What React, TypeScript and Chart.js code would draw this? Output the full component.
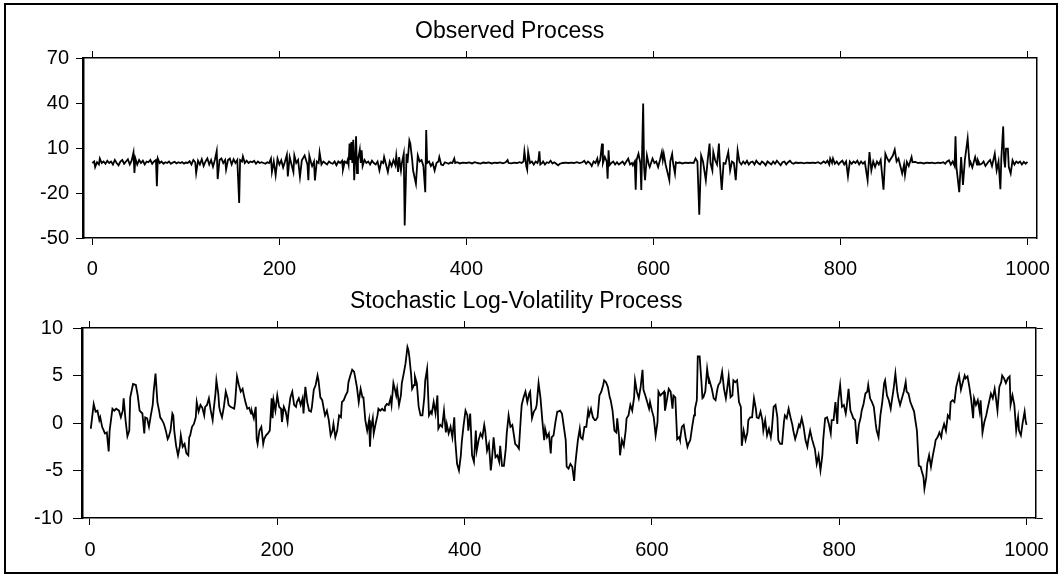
import React, { useEffect, useRef } from 'react';
import { Chart, registerables } from 'chart.js';

Chart.register(...registerables);

const FONT = '"Liberation Sans", Arial, Helvetica, sans-serif';

// ---- tick values ----
const xTicks = [0, 200, 400, 600, 800, 1000];
const obsYTicks = [-50, -20, 10, 40, 70];
const volYTicks = [-10, -5, 0, 5, 10];

// ---- titles ----
const obsTitle = 'Observed Process';
const volTitle = 'Stochastic Log-Volatility Process';

// ---- observed process: [time, value] ----
const obsPoints: [number, number][] = [
  [0,0],[2,1],[3,-2.7],[5,0.5],[7,-1],[8,3],[10,0],[12,1],[14,-0.5],[16,1.5],[18,0],[20,1],[22,-1],[24,2],[26,0],[28,-1.5],[30,1],[32,2],[34,-0.5],[36,1],[38,2.5],[40,-1],[42,1.5],[44,7],[45,-6.7],[46,3],[48,-1],[50,2],[52,0],[54,1.5],[56,-1],[58,1],[60,0.5],[62,2],[64,-0.5],[66,1],[68,2],[69,-15.5],[70,3],[72,0],[74,1],[76,-0.5],[78,0.5],[80,0],[82,1],[84,-0.5],[86,0.3],[88,0.8],[90,-0.3],[92,0.5],[94,0],[96,0.6],[98,-0.4],[100,0.3],[102,0],[104,1.2],[106,-1],[108,2],[110,0.5],[111,-6.7],[113,1.5],[115,-1],[117,2.5],[119,-2],[121,1],[123,3],[125,-1],[127,2],[129,-2.5],[131,2],[133,8],[134,-10.7],[136,2],[138,3],[140,0],[142,2],[143,-4.4],[145,2],[147,3],[149,-1],[151,2.5],[153,0],[155,2],[157,-26.7],[158,2],[160,1],[161,4.4],[163,0],[165,1.5],[167,0],[169,1],[171,0.5],[173,1.5],[175,-0.5],[177,1],[179,0],[181,0.5],[183,0],[185,-0.5],[187,0.5],[189,0],[191,3],[192,-6],[194,1],[196,-8.2],[198,2.9],[200,-1],[202,1.8],[204,-3],[206,1],[208,5.5],[209,-8.9],[211,4],[213,-1],[215,-6],[216,5],[218,0],[220,2],[222,-9.3],[224,1.8],[227,5],[230,-1],[231,-11.5],[232,5],[234,0],[235,-2],[237,1],[238,-11.6],[240,1],[242,0],[243,7],[245,-1],[247,1],[249,0],[251,-1],[253,1],[255,0],[257,-0.5],[259,1],[261,-1.5],[263,1],[265,0],[267,1.5],[268,-4.4],[270,1],[272,0],[273,2],[274,-1],[275,12.9],[276,2],[277,14],[278,0],[279,15.5],[280,-11.5],[281,3],[282,17.8],[283,-6.7],[284,2],[286,9],[287,0],[288,8.4],[289,-2],[291,2],[293,0],[295,1],[297,-1],[299,1.5],[301,0],[303,-1],[305,1],[307,-4.9],[309,1],[311,0],[312,4],[314,-1],[316,-6],[318,1],[320,-2],[322,2],[324,-1.5],[325,5],[327,-6],[328,4],[330,-5],[331,0],[333,6.2],[334,-41.6],[336,6.2],[337,0],[339,15],[340,13],[342,2],[343,-5],[346,-13.8],[348,5],[350,1],[352,2],[354,-2],[356,-19.5],[357,22],[358,0],[360,1],[362,-2],[364,0],[366,-5],[368,0],[370,1],[371,4],[373,-1],[375,-1.5],[377,0.5],[379,0],[381,-0.5],[383,0.3],[385,0],[387,3],[388,0],[390,0.5],[393,-0.3],[396,0.3],[400,0],[403,0.4],[406,-0.3],[409,0.5],[412,0],[415,-0.4],[418,0.3],[421,0],[424,0.4],[427,-0.3],[430,0.2],[433,0],[436,0.4],[439,-0.2],[442,0.5],[444,2],[445,0],[448,-0.3],[451,0.3],[454,0],[457,0.5],[459,0],[461,1],[462,7.8],[464,-2],[465,-4.4],[466,7.3],[468,0],[470,1],[472,-1],[474,1],[476,0],[477,2],[478,7.8],[479,-1],[481,0],[482,1],[484,-1],[486,0.5],[488,0],[490,1.5],[492,-0.3],[494,0.5],[496,-0.5],[498,-1.5],[500,-0.5],[503,0],[506,0.3],[509,0],[512,0.3],[515,0],[518,0.5],[521,0],[524,0.5],[526,1.5],[528,-0.5],[530,1],[532,0],[534,-2],[536,1],[538,0],[540,3],[541,-1],[543,2],[545,12.9],[546,0],[548,4],[550,1],[551,-10.5],[552,8.4],[553,-1.5],[555,0],[557,1],[559,-1],[561,0.5],[563,-1],[565,0],[567,1],[569,-1],[571,1],[573,2.9],[575,-1],[577,0],[578,-1.5],[580,1],[581,-17.8],[582,2],[584,6.2],[586,0],[587,-18],[589,39.6],[590,-3],[591,-11.5],[593,5],[595,-1],[596,-2.7],[599,3],[601,0],[603,1],[605,-2.7],[607,2],[609,7.3],[610,2],[611,6.2],[613,-1],[617,-11.5],[618,1],[620,6],[621,0],[623,-7],[624,0.5],[626,0],[628,0.3],[631,-0.3],[634,0.2],[637,0],[640,0.3],[643,0],[645,3],[647,1],[649,-34.4],[651,5],[653,1],[656,-11.5],[658,2],[660,12.9],[661,0],[663,-5],[664,7.3],[666,1.8],[668,-1],[670,12.9],[671,0],[673,-18],[675,0],[677,-0.5],[680,7.3],[682,-5],[684,1],[686,0],[688,-11.5],[690,8.4],[692,0.7],[694,-1],[696,1],[698,-0.5],[700,1.5],[702,-1],[704,0.5],[706,1],[708,-1],[710,1.5],[712,0],[714,-1],[716,1],[718,0],[720,-1.5],[722,1],[724,0],[726,-1],[728,1],[730,-0.5],[732,1.5],[734,0],[736,-1.5],[738,0.5],[740,1],[742,-1],[744,0.5],[746,1.5],[748,0],[750,-0.5],[752,0.3],[755,0],[758,0.3],[761,-0.2],[764,0.2],[767,0],[770,0.3],[773,0],[776,0.5],[779,-0.5],[782,1],[784,0],[786,1.5],[788,-1],[789,3],[791,0],[792,3],[794,-0.5],[796,1],[798,-1],[800,0.5],[802,1.5],[804,-1],[806,1],[808,-8.9],[810,1],[812,-0.5],[814,1],[816,0],[818,1.5],[820,-1],[822,1],[824,-0.5],[826,0.7],[829,-11.5],[831,7.3],[833,-4.9],[835,1],[837,-2.7],[839,1],[841,-1],[843,2],[846,-17.8],[848,6.2],[850,3],[852,1],[854,3],[856,5],[858,8.9],[860,1],[862,3],[864,-2],[866,-7],[868,-1],[869,-8],[871,0.7],[873,-2],[876,4],[877,0.5],[880,0.7],[883,0],[886,0.3],[889,-0.3],[892,0.2],[895,0],[898,0.3],[901,-0.2],[904,0.3],[907,0],[910,0.5],[912,-0.5],[914,1],[916,1.8],[918,-1],[920,1],[922,-2],[923,17.8],[924,-2.7],[927,-19.5],[929,4],[931,-14.6],[933,2],[936,16.4],[938,-1],[939,0.7],[941,-3],[944,4],[946,-1],[947,1.8],[949,-1],[951,-0.5],[953,1],[955,-2],[958,0.7],[960,2],[962,-2],[965,6.2],[967,-4.9],[969,1],[971,-17.5],[972,3],[974,24.4],[975,1.8],[976,-3],[977,9.5],[979,9.5],[980,-2.7],[982,-7],[984,1.8],[986,-1],[988,1],[990,0],[992,1],[994,-1],[996,0.7],[998,-0.5],[1000,0.7]
];

// ---- stochastic log-volatility: [time, value] ----
const volPoints: [number, number][] = [
  [0,-0.5],[1,-0.5],[4,2.0],[6,1.2],[8,1.3],[10,0.3],[11,0.6],[13,-0.4],[16,-1.1],[18,-1.0],[20,-3.0],[21,-0.8],[24,1.5],[26,1.3],[28,1.5],[31,1.3],[33,0.6],[35,1.3],[36,2.6],[38,0.3],[40,-1.4],[42,-0.8],[43,2.7],[46,4.1],[49,4.0],[51,2.9],[53,1.3],[56,1.0],[58,-1.1],[59,0.6],[61,0.5],[63,-0.4],[65,0.8],[67,1.9],[68,3.3],[70,5.2],[72,2.2],[74,1.2],[75,0.6],[77,0.3],[79,-0.1],[81,-0.8],[83,-1.7],[84,-1.5],[86,-0.8],[88,1.0],[89,0.8],[90,-0.8],[92,-2.4],[94,-3.4],[96,-2.4],[97,-1.3],[99,-2.5],[101,-2.2],[103,-3.2],[105,-3.4],[106,-1.5],[107,-1.3],[109,-0.4],[111,-0.1],[113,0.6],[114,2.2],[116,1.2],[118,1.9],[120,1.6],[122,0.8],[123,1.7],[125,1.9],[127,2.6],[129,1.3],[131,0.3],[132,1.3],[134,3.1],[135,4.5],[137,3.1],[138,1.7],[139,1.2],[141,0.6],[143,1.7],[145,3.3],[147,2.6],[148,1.9],[150,1.7],[152,1.6],[154,1.5],[155,2.2],[157,4.9],[159,4.0],[161,3.3],[163,3.6],[164,3.1],[166,2.2],[168,1.5],[170,1.6],[172,1.0],[173,1.2],[175,0.5],[177,1.7],[178,-1.7],[179,-2.2],[181,-0.8],[183,-0.4],[185,-2.2],[186,-1.7],[188,-1.3],[190,-1.1],[192,-0.8],[194,2.6],[195,0.5],[196,2.4],[198,1.3],[200,2.9],[202,1.7],[204,1.5],[205,0.1],[207,1.7],[209,1.2],[211,0.1],[212,1.2],[214,2.7],[216,3.3],[218,1.9],[220,1.7],[221,2.2],[223,2.6],[225,1.9],[227,2.6],[228,1.0],[230,3.8],[232,2.2],[234,1.3],[236,1.2],
  [237,1.7],[239,3.5],[241,4.0],[243,5.0],[244,4.5],[246,2.7],[248,2.4],[250,1.3],[251,0.8],[253,1.3],[255,0.3],[257,-1.3],[259,-0.8],[260,-0.1],[262,-1.5],[264,-0.8],[266,0.8],[268,0.6],[269,2.2],[271,2.4],[273,2.9],[275,3.3],[276,4.3],[278,5.0],[280,5.6],[282,5.4],[283,4.9],[285,3.8],[287,2.2],[289,3.6],[291,2.7],[292,2.7],[294,0.3],[296,-0.8],[298,0.3],[299,-2.5],[300,-0.6],[302,0.5],[303,-1.1],[305,-0.1],[307,0.8],[308,1.5],[310,1.3],[312,1.5],[314,1.3],[315,1.7],[317,2.0],[319,1.9],[321,2.6],[322,1.9],[324,4.2],[325,3.8],[327,2.9],[328,3.6],[330,1.9],[332,2.9],[333,4.2],[335,5.2],[337,6.3],[339,8.0],[340,7.7],[341,7.0],[343,5.0],[344,3.6],[346,4.0],[347,4.9],[349,4.2],[351,1.7],[353,0.8],[355,0.8],[357,2.7],[358,4.5],[360,5.7],[362,0.8],[364,1.2],[365,1.0],[367,2.2],[369,1.0],[371,2.9],[372,-0.6],[374,-0.2],[376,-0.4],[378,1.3],[380,-1.0],[381,-0.1],[383,-1.1],[385,-0.4],[387,-1.5],[389,0.6],[390,-1.8],[392,-4.3],[394,-5.0],[396,-3.4],[397,-2.0],[399,-0.2],[401,1.3],[403,0.8],[404,-0.8],[406,1.0],[408,-3.4],[410,-4.1],[412,-0.8],[413,-2.9],[415,-1.8],[417,-1.1],[419,-1.5],[421,-0.2],[422,-0.8],[424,-2.9],[426,-2.2],[428,-5.0],[429,-4.1],[431,-1.5],[433,-3.6],[435,-3.4],[437,-4.1],[438,-2.4],[440,-4.5],[442,-4.5],[444,-2.7],[445,-1.1],[447,0.8],[449,-0.4],[451,-0.2],[453,-1.5],[454,-2.2],[456,-2.4],[458,-2.7],[460,0.5],[461,1.9],[463,2.7],[465,3.3],[467,2.2],[469,3.1],[470,3.3],[472,0.5],[474,1.2],[476,1.5],[477,1.9],[479,4.2],[481,2.7],
  [483,0.3],[485,-1.8],[486,-0.6],[488,-1.5],[490,-1.1],[492,-3.2],[493,-1.5],[495,-1.3],[497,0.1],[499,1.2],[500,1.2],[502,1.3],[504,1.0],[506,-0.4],[508,-1.8],[509,-4.6],[511,-4.8],[513,-4.3],[515,-4.6],[517,-6.1],[518,-4.6],[519,-3.6],[521,-1.8],[523,-0.6],[524,-1.5],[526,-1.7],[528,-0.4],[530,-0.4],[532,1.3],[533,0.8],[535,1.5],[537,0.6],[539,0.3],[540,0.3],[542,0.6],[544,2.9],[546,3.3],[548,4.0],[549,4.5],[551,4.3],[553,3.8],[555,2.7],[556,2.4],[558,1.3],[560,-0.8],[562,-1.0],[563,0.5],[565,-1.5],[566,-3.4],[568,-1.8],[570,-2.4],[572,-0.8],[573,0.5],[575,0.8],[577,1.9],[579,1.3],[581,2.7],[582,4.5],[584,3.3],[586,2.6],[588,3.8],[590,5.6],[591,3.5],[593,2.9],[595,2.2],[597,1.5],[598,2.2],[600,1.3],[602,0.6],[604,-1.3],[606,0.1],[607,3.3],[609,2.9],[611,3.1],[613,3.3],[614,1.3],[616,2.4],[618,3.6],[620,3.3],[622,1.5],[623,2.9],[625,2.7],[627,-1.7],[629,-1.5],[630,-1.8],[632,-0.4],[634,-0.2],[636,-1.5],[638,-2.5],[639,-2.2],[641,-1.8],[643,-0.4],[645,0.8],[646,1.5],[648,2.4],[649,7.0],[651,7.0],[653,4.2],[654,2.6],[655,2.7],[657,3.3],[659,5.7],[661,4.2],[662,4.3],[664,3.6],[666,2.6],[668,2.4],[670,3.6],[671,4.0],[673,4.3],[675,5.4],[677,3.6],[679,2.6],[680,3.3],[682,4.9],[684,2.7],[686,2.9],[687,4.5],[689,4.3],[691,4.5],[693,2.2],[695,1.7],[696,-2.4],[698,-0.8],[700,-1.8],[702,-1.0],[703,0.3],[705,0.6],[707,0.6],[709,2.6],[711,1.5],[712,0.6],[714,0.5],[716,1.2],[718,0.3],[719,-0.8],[721,0.3],[723,-1.3],[725,-0.6],[727,-1.5],
  [728,-0.8],[730,1.7],[732,1.9],[734,0.6],[735,-1.8],[737,-2.2],[739,-2.2],[741,0.1],[742,0.8],[744,0.5],[746,1.5],[748,0.6],[750,-0.2],[751,-0.8],[753,-1.7],[755,-1.0],[757,-0.2],[758,-0.4],[760,0.5],[762,-0.4],[764,-1.8],[766,-2.5],[767,-1.8],[769,-0.8],[771,-1.7],[773,-2.4],[774,-2.7],[776,-4.3],[778,-3.4],[780,-5.0],[782,-3.4],[783,-1.7],[785,0.5],[787,0.6],[789,-0.1],[791,-1.1],[792,0.3],[794,0.3],[796,2.2],[798,-0.1],[799,2.4],[801,4.0],[803,1.7],[805,1.9],[807,1.0],[808,1.7],[810,3.6],[812,1.3],[814,0.8],[815,0.5],[817,0.3],[819,-2.2],[821,-0.2],[823,0.6],[824,1.3],[826,2.0],[828,3.1],[830,3.3],[831,4.0],[833,2.6],[835,2.2],[837,1.7],[839,-0.1],[840,-0.8],[842,-1.5],[844,0.8],[846,2.2],[848,4.2],[849,4.5],[851,2.9],[853,2.4],[855,1.5],[856,2.2],[858,3.5],[860,5.2],[862,3.3],[863,2.7],[865,1.9],[867,2.6],[869,3.3],[871,4.3],[872,3.3],[874,3.1],[876,2.2],[878,1.7],[880,1.2],[881,0.5],[883,-0.8],[885,-4.5],[887,-4.6],[888,-5.0],[890,-5.7],[891,-6.9],[893,-5.7],[894,-4.3],[896,-3.4],[898,-4.6],[900,-3.4],[902,-2.4],[903,-1.8],[905,-1.5],[907,-1.0],[909,-1.5],[910,-0.8],[912,-0.1],[914,-0.8],[916,0.8],[918,0.5],[919,2.2],[921,2.4],[923,2.2],[925,3.8],[926,4.2],[928,5.0],[930,3.5],[932,4.3],[934,5.0],[935,4.7],[937,4.9],[939,3.8],[941,2.4],[943,0.5],[944,2.6],[946,1.9],[948,2.4],[950,1.2],[951,2.4],[953,-1.0],[955,0.1],[957,0.8],[958,1.3],[960,2.2],[962,3.1],[964,2.6],[966,3.6],[967,2.9],[969,1.3],[971,3.8],[973,4.3],[974,5.0],[976,4.7],[978,4.2],[980,4.7],[982,4.9],[983,1.9],[985,2.9],[987,1.9],[989,-0.8],[991,0.6],[992,-0.8],[994,-1.3],[996,0.1],[998,1.2],[999,0.3],[1000,-0.2]
];

type PanelCfg = {
  points: [number, number][];
  title: string;
  titleX: number;
  titleY: number;
  xMin: number;
  xMax: number;
  yMin: number;
  yMax: number;
  yTicks: number[];
  leftW: number;
  rightW: number;
  topH: number;
  bottomH: number;
  yPad: number;
  yTickLen: number;
  xPad: number;
  rightTicks: boolean;
};

const panelA: PanelCfg = {
  points: obsPoints, title: obsTitle, titleX: 415, titleY: 31.5,
  xMin: -10, xMax: 1009.5, yMin: -50, yMax: 70, yTicks: obsYTicks,
  leftW: 83, rightW: 24, topH: 58, bottomH: 49,
  yPad: 7, yTickLen: 7, xPad: 12, rightTicks: false,
};

const panelB: PanelCfg = {
  points: volPoints, title: volTitle, titleX: 350, titleY: 14.5,
  xMin: -8.5, xMax: 1010, yMin: -10, yMax: 10, yTicks: volYTicks,
  leftW: 82, rightW: 26, topH: 41, bottomH: 56,
  yPad: 10, yTickLen: 9, xPad: 13, rightTicks: true,
};

const INK = '#000';

function buildChart(canvas: HTMLCanvasElement, p: PanelCfg) {
  const tickFont = { family: FONT, size: 20 };
  const setTicks = (vals: number[]) => (s: any) => {
    s.ticks = vals.map((v) => ({ value: v }));
  };
  const fixW = (w: number) => (s: any) => { s.width = w; };
  const fixH = (h: number) => (s: any) => { s.height = h; };
  const fmt = (v: any) => String(v);
  const titlePlugin = {
    id: 'panelTitle',
    afterDraw(chart: any) {
      const ctx = chart.ctx;
      ctx.save();
      ctx.font = `23px ${FONT}`;
      ctx.fillStyle = INK;
      ctx.textAlign = 'left';
      ctx.textBaseline = 'middle';
      ctx.fillText(p.title, p.titleX, p.titleY);
      ctx.restore();
    },
  };

  return new Chart(canvas, {
    type: 'line',
    data: {
      datasets: [
        {
          data: p.points.map(([x, y]) => ({ x, y })),
          xAxisID: 'x',
          yAxisID: 'y',
          borderColor: INK,
          borderWidth: 1.8,
          pointRadius: 0,
          tension: 0,
          fill: false,
        },
      ],
    },
    options: {
      animation: false,
      responsive: false,
      devicePixelRatio: 1,
      events: [],
      layout: { padding: 0, autoPadding: false },
      plugins: {
        legend: { display: false },
        title: { display: false },
        tooltip: { enabled: false },
      },
      scales: {
        x: {
          type: 'linear',
          position: 'bottom',
          min: p.xMin,
          max: p.xMax,
          afterBuildTicks: setTicks(xTicks),
          afterFit: fixH(p.bottomH),
          ticks: { callback: fmt, font: tickFont, color: INK, padding: p.xPad, maxRotation: 0, autoSkip: false },
          grid: { drawOnChartArea: false, drawTicks: true, tickLength: 7, color: INK, tickColor: INK, lineWidth: 1 },
          border: { display: true, color: INK, width: 1.5 },
        },
        xTop: {
          type: 'linear',
          position: 'top',
          min: p.xMin,
          max: p.xMax,
          afterBuildTicks: setTicks(xTicks),
          afterFit: fixH(p.topH),
          ticks: { display: false },
          grid: { drawOnChartArea: false, drawTicks: true, tickLength: 7, color: INK, tickColor: INK, lineWidth: 1 },
          border: { display: true, color: INK, width: 1.5 },
        },
        y: {
          type: 'linear',
          position: 'left',
          min: p.yMin,
          max: p.yMax,
          afterBuildTicks: setTicks(p.yTicks),
          afterFit: fixW(p.leftW),
          ticks: { callback: fmt, font: tickFont, color: INK, padding: p.yPad, autoSkip: false },
          grid: { drawOnChartArea: false, drawTicks: true, tickLength: p.yTickLen, color: INK, tickColor: INK, lineWidth: 1 },
          border: { display: true, color: INK, width: 2.5 },
        },
        yRight: {
          type: 'linear',
          position: 'right',
          min: p.yMin,
          max: p.yMax,
          afterBuildTicks: setTicks(p.rightTicks ? p.yTicks : []),
          afterFit: fixW(p.rightW),
          ticks: { display: false },
          grid: { display: p.rightTicks, drawOnChartArea: false, drawTicks: true, tickLength: 7, color: INK, tickColor: INK, lineWidth: 1 },
          border: { display: true, color: INK, width: 1.5 },
        },
      },
    } as any,
    plugins: [titlePlugin],
  });
}

export default function App() {
  const aRef = useRef<HTMLCanvasElement>(null);
  const bRef = useRef<HTMLCanvasElement>(null);

  useEffect(() => {
    document.body.style.margin = '0';
    const a = buildChart(aRef.current as HTMLCanvasElement, panelA);
    const b = buildChart(bRef.current as HTMLCanvasElement, panelB);
    return () => {
      a.destroy();
      b.destroy();
    };
  }, []);

  return (
    <div style={{ position: 'relative', width: 1062, height: 574, background: '#fff', overflow: 'hidden' }}>
      <canvas ref={aRef} width={1062} height={287} style={{ position: 'absolute', left: 0, top: 0, width: 1062, height: 287 }} />
      <canvas ref={bRef} width={1062} height={287} style={{ position: 'absolute', left: 0, top: 287, width: 1062, height: 287 }} />
      <div
        style={{
          position: 'absolute',
          left: 4,
          top: 3,
          width: 1054,
          height: 571,
          border: '2px solid #000',
          boxSizing: 'border-box',
          pointerEvents: 'none',
        }}
      />
    </div>
  );
}
